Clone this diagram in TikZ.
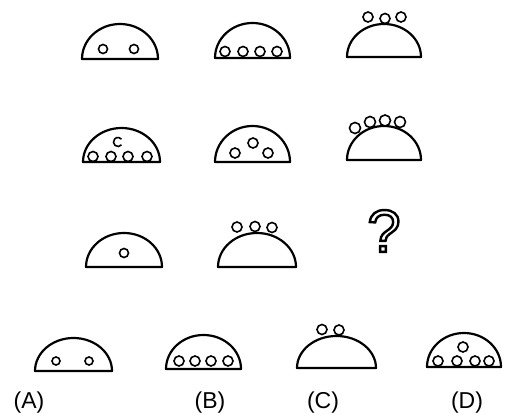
\documentclass[tikz,border=0pt]{standalone}
\usepackage{fontspec}
\setmainfont{Liberation Sans}
\usetikzlibrary{positioning}

% half-dome: centre x, base y, x radius, height
\newcommand{\dome}[4]{\draw[dome] (#1-#3,#2) arc[start angle=180, end angle=360, x radius=#3, y radius=#4] -- cycle;}

\begin{document}
\begin{tikzpicture}[
  x=1pt, y=-1pt,
  dome/.style={line width=2.2pt, line join=round},
  ball/.style={line width=1.6pt, fill=white},
  lab/.style={font=\fontsize{23}{26}\selectfont, inner sep=0pt}
]
\useasboundingbox (0,0) rectangle (506,419);

% row 1
\dome{120}{59}{38}{35}
\foreach \x in {103,134} \draw[ball] (\x,49) circle[radius=4.5];
\dome{252.5}{58}{37.5}{35}
\foreach \x in {225,243,260,277} \draw[ball] (\x,51.5) circle[radius=5];
\dome{384}{57}{37}{33}
\draw[ball] (368,17) circle[radius=5];
\draw[ball] (385,18.5) circle[radius=5];
\draw[ball] (401,17) circle[radius=5];

% row 2
\dome{121.5}{162}{38.5}{34}
\foreach \x in {93,111,128,147} \draw[ball] (\x,156.5) circle[radius=5];
\draw[line width=1.6pt] (118,142) ++(40:4.5) arc[start angle=40, end angle=320, radius=4.5];
\dome{252.5}{162}{37.5}{36}
\draw[ball] (235,153) circle[radius=5];
\draw[ball] (253,143) circle[radius=5];
\draw[ball] (268,153) circle[radius=5];
\dome{384}{160}{37}{34}
\draw[ball] (355,128) circle[radius=5.5];
\draw[ball] (370,122) circle[radius=5.5];
\draw[ball] (385,120.5) circle[radius=5.5];
\draw[ball] (400,122) circle[radius=5.5];

% row 3
\dome{124}{267}{38}{34}
\draw[ball] (124,253) circle[radius=4.5];
\dome{257}{267}{39}{34}
\draw[ball] (237,227) circle[radius=5];
\draw[ball] (255,226.5) circle[radius=5];
\draw[ball] (272,227.5) circle[radius=5];
\node[font=\fontsize{60}{60}\selectfont, inner sep=0pt] (qmark) at (384,231)
  {\special{pdf:literal direct 1 Tr 2.4 w}?\special{pdf:literal direct 0 Tr}};

% answers
\dome{73.5}{371}{38.5}{33}
\foreach \x in {56,89} \draw[ball] (\x,361) circle[radius=4];
\dome{203.5}{369}{37.5}{34}
\foreach \x in {179,195,211,228} \draw[ball] (\x,361) circle[radius=5];
\dome{336.5}{368}{39.5}{32}
\draw[ball] (322,329.5) circle[radius=5];
\draw[ball] (339,330) circle[radius=5];
\dome{464}{367}{37}{34}
\foreach \x in {438,457,475,489} \draw[ball] (\x,361) circle[radius=5];
\draw[ball] (463,347) circle[radius=5];

\node[lab] (optA) at (29,403) {(A)};
\node[lab] (optB) at (210,403) {(B)};
\node[lab] (optC) at (323,403) {(C)};
\node[lab] (optD) at (467,403) {(D)};
\end{tikzpicture}
\end{document}
